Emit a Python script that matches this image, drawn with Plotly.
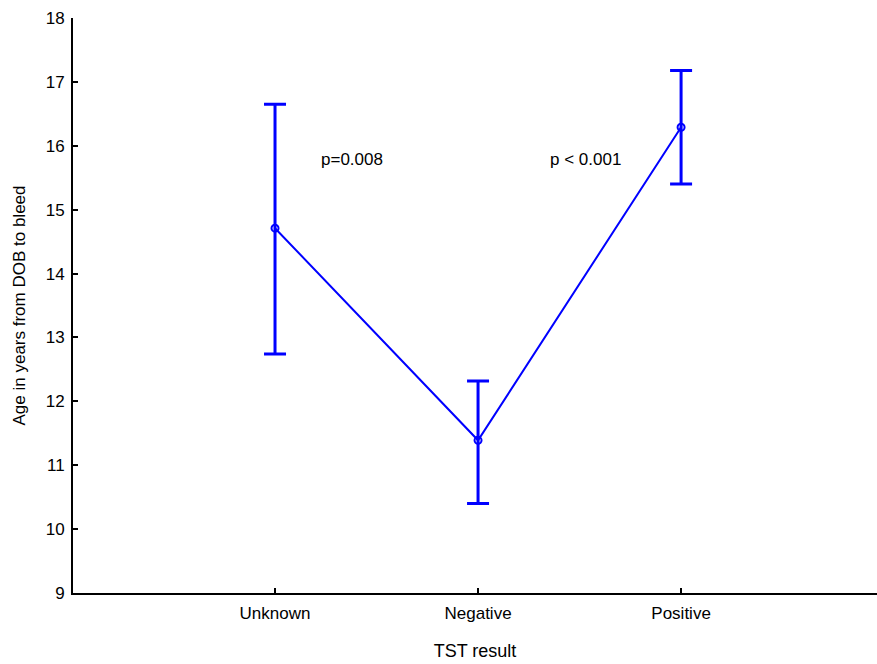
import plotly.graph_objects as go

# Mean age by TST result, with interval bounds
categories = ["Unknown", "Negative", "Positive"]
mean_age = [14.71, 11.39, 16.29]
upper_bound = [16.65, 12.32, 17.18]
lower_bound = [12.74, 10.40, 15.40]
y_ticks = [9, 10, 11, 12, 13, 14, 15, 16, 17, 18]

x_pos = list(range(len(categories)))
err_plus = [u - m for u, m in zip(upper_bound, mean_age)]
err_minus = [m - l for m, l in zip(mean_age, lower_bound)]

blue = "#0000FF"
font_family = "Liberation Sans, Arial, sans-serif"

fig = go.Figure()
fig.add_trace(go.Scatter(
    x=x_pos,
    y=mean_age,
    mode="lines+markers",
    line=dict(color=blue, width=2),
    marker=dict(symbol="circle-open", size=7, color=blue, line=dict(color=blue, width=2)),
    error_y=dict(type="data", symmetric=False, array=err_plus, arrayminus=err_minus,
                 color=blue, thickness=3, width=11),
    showlegend=False,
))

fig.add_annotation(x=0.38, y=15.78, text="p=0.008", showarrow=False,
                   font=dict(family=font_family, size=17, color="black"))
fig.add_annotation(x=1.53, y=15.78, text="p < 0.001", showarrow=False,
                   font=dict(family=font_family, size=17, color="black"))

fig.update_layout(
    width=877, height=664,
    margin=dict(l=73, r=0, t=18, b=71),
    paper_bgcolor="white", plot_bgcolor="white",
    font=dict(family=font_family, size=17, color="black"),
    xaxis=dict(
        range=[-0.995, 2.965], tickvals=x_pos, ticktext=categories,
        showline=True, linecolor="black", linewidth=2,
        ticks="inside", ticklen=5, tickwidth=2, tickcolor="black",
        ticklabelstandoff=4,
        showgrid=False, zeroline=False,
        title=dict(text="TST result", font=dict(size=18), standoff=22),
    ),
    yaxis=dict(
        range=[9, 18], tickvals=y_ticks,
        showline=True, linecolor="black", linewidth=2,
        ticks="inside", ticklen=5, tickwidth=2, tickcolor="black",
        ticklabelstandoff=3,
        showgrid=False, zeroline=False,
        title=dict(text="Age in years from DOB to bleed", font=dict(size=17), standoff=16),
    ),
)

fig.write_html("out.html")
